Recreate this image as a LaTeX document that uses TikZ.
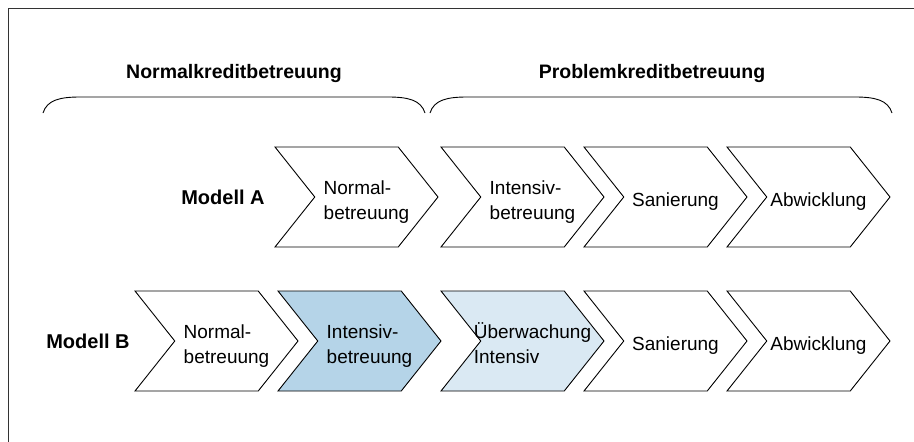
\documentclass[tikz,border=0pt]{standalone}
\usepackage{fontspec}
\setmainfont{Liberation Sans}
\usetikzlibrary{shapes.symbols}

\definecolor{stufeblau}{RGB}{181,212,232}
\definecolor{stufehell}{RGB}{218,233,243}

% text of a step, a little right of the middle
\newcommand{\stufe}[1]{\makebox[0pt]{\hspace*{20pt}\raisebox{-9pt}[0pt][0pt]{\begin{tabular}{@{}l@{}}#1\end{tabular}}}}

\begin{document}
\begin{tikzpicture}[
  x=1pt,y=-1pt,
  chev/.style={draw,line width=.9pt,shape=signal,signal from=west,signal to=east,
    signal pointer angle=103,minimum width=163pt,minimum height=100pt,inner sep=0pt,
    font=\fontsize{19}{25}\selectfont},
  head/.style={font=\fontsize{19.5}{24}\selectfont\bfseries},
  modell/.style={font=\fontsize{20}{24}\selectfont\bfseries}
]
  \useasboundingbox (0,0) rectangle (914,442);

  % frame, cut at the right and bottom
  \draw[line width=1.5pt,black!80] (8.5,442) -- (8.5,8.5) -- (914,8.5);

  % groups
  \node[head] (nkb) at (234,73) {Normalkreditbetreuung};
  \node[head] (pkb) at (652,73) {Problemkreditbetreuung};
  \draw[line width=.9pt] (43,113) .. controls (47,100) and (60,97) .. (80,97)
    -- (388,97) .. controls (408,97) and (421,100) .. (425,113);
  \draw[line width=.9pt] (430,113) .. controls (434,100) and (447,97) .. (467,97)
    -- (855,97) .. controls (875,97) and (888,100) .. (892,113);

  % Modell A
  \node[modell] (modA) at (223,197) {Modell A};
  \node[chev] (a1) at (356.5,197) {\stufe{Normal-\\betreuung}};
  \node[chev] (a2) at (522.5,197) {\stufe{Intensiv-\\betreuung}};
  \node[chev] (a3) at (665.5,197) {\stufe{Sanierung}};
  \node[chev] (a4) at (808.5,197) {\stufe{Abwicklung}};

  % Modell B
  \node[modell] (modB) at (88,341) {Modell B};
  \node[chev] (b1) at (216.5,341) {\stufe{Normal-\\betreuung}};
  \node[chev,fill=stufeblau] (b2) at (359.5,341) {\stufe{Intensiv-\\betreuung}};
  \node[chev,fill=stufehell] (b3) at (522.5,341) {\stufe{Überwachung\\Intensiv}};
  \node[chev] (b4) at (665.5,341) {\stufe{Sanierung}};
  \node[chev] (b5) at (808.5,341) {\stufe{Abwicklung}};
\end{tikzpicture}
\end{document}
